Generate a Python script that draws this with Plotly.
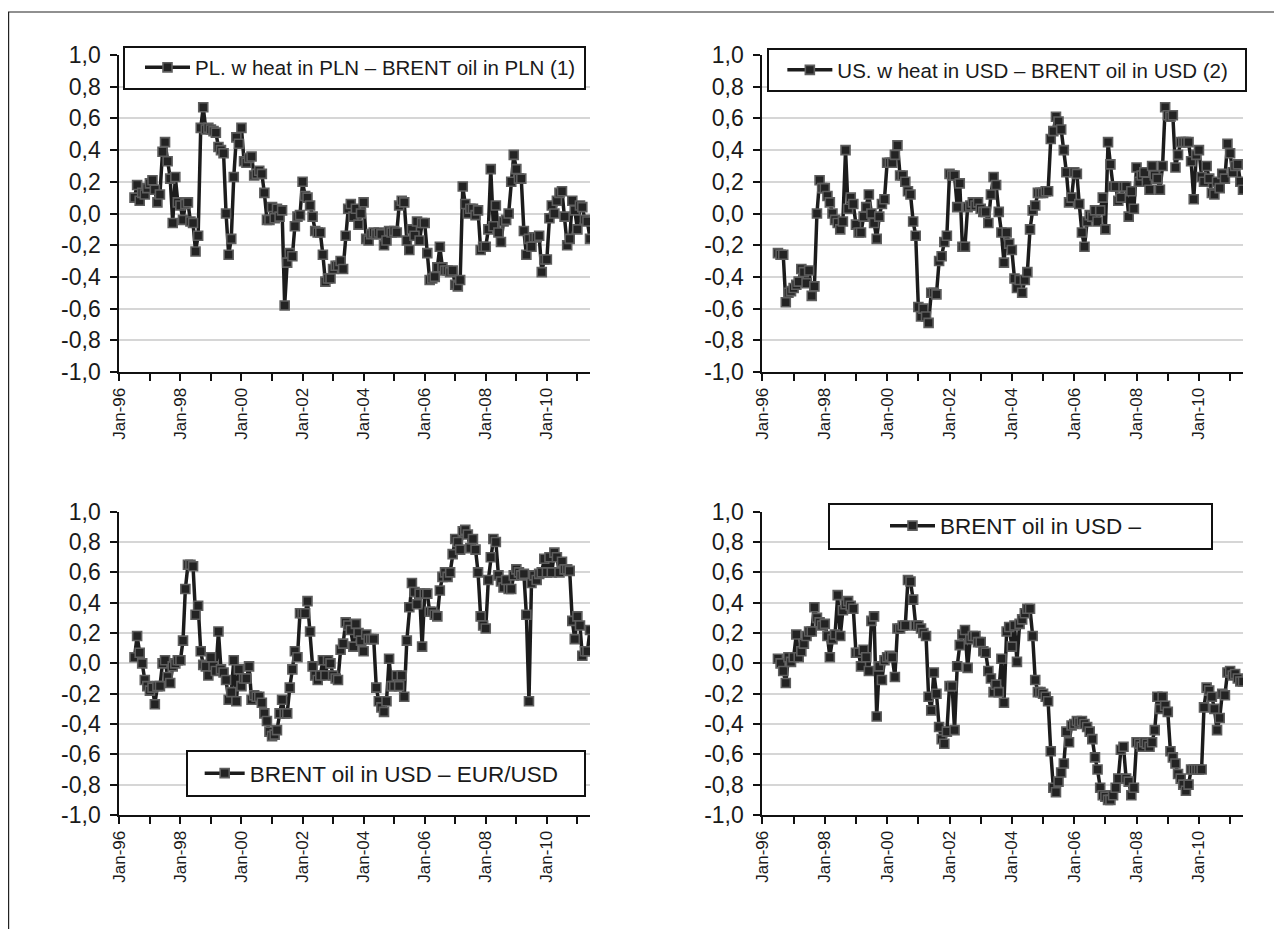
import pandas as pd
import plotly.graph_objects as go

# ---------------- data (monthly, Jul-1996 .. Jun-2011) ----------------
start_month = "1996-07-01"
n_months = 180

pl_wheat_oil_pln = [
    0.10, 0.18, 0.08, 0.13, 0.12, 0.16,
    0.19, 0.21, 0.15, 0.07, 0.12, 0.39, 0.45, 0.33, 0.22, -0.06, 0.23, 0.07,
    0.05, -0.04, 0.06, 0.07, -0.05, -0.06, -0.24, -0.14, 0.54, 0.67, 0.53, 0.54,
    0.53, 0.52, 0.51, 0.42, 0.40, 0.38, 0.00, -0.26, -0.16, 0.23, 0.48, 0.44,
    0.54, 0.33, 0.32, 0.35, 0.36, 0.24, 0.25, 0.27, 0.25, 0.13, -0.04, -0.04,
    0.04, -0.03, 0.03, -0.02, 0.02, -0.58, -0.31, -0.25, -0.27, -0.08, -0.02, -0.01,
    0.20, 0.11, 0.10, 0.05, -0.02, -0.11, -0.12, -0.12, -0.26, -0.43, -0.41, -0.41,
    -0.35, -0.33, -0.33, -0.30, -0.35, -0.14, 0.03, 0.06, -0.02, 0.03, -0.07, 0.00,
    0.07, -0.16, -0.17, -0.13, -0.12, -0.13, -0.12, -0.13, -0.20, -0.17, -0.11, -0.12,
    -0.11, -0.12, 0.05, 0.08, 0.07, -0.17, -0.23, -0.10, -0.14, -0.05, -0.17, -0.06,
    -0.06, -0.25, -0.42, -0.41, -0.40, -0.34, -0.21, -0.34, -0.36, -0.36, -0.37, -0.36,
    -0.45, -0.46, -0.42, 0.17, 0.06, 0.00, 0.03, 0.03, -0.01, 0.02, -0.23, -0.21,
    -0.21, -0.10, 0.28, -0.08, 0.05, -0.12, -0.18, -0.05, -0.04, 0.00, 0.20, 0.37,
    0.28, 0.22, 0.22, -0.11, -0.26, -0.16, -0.21, -0.15, -0.15, -0.14, -0.37, -0.29,
    -0.29, -0.03, 0.05, 0.00, 0.08, 0.13, 0.14, -0.02, -0.20, -0.16, 0.08, 0.02,
    -0.10, 0.05, 0.04, -0.04, -0.05, -0.16,
]

us_wheat_oil_usd = [
    -0.25, -0.26, -0.26, -0.56, -0.50, -0.49,
    -0.47, -0.45, -0.43, -0.35, -0.37, -0.44, -0.36, -0.52, -0.46, 0.00, 0.21, 0.16,
    0.16, 0.11, 0.07, 0.00, -0.04, -0.06, -0.10, -0.05, 0.40, 0.03, 0.10, 0.06,
    -0.07, -0.12, -0.12, -0.02, 0.04, 0.12, 0.00, -0.06, -0.16, -0.02, 0.06, 0.09,
    0.32, 0.32, 0.32, 0.37, 0.43, 0.24, 0.24, 0.20, 0.14, 0.12, -0.05, -0.14,
    -0.59, -0.65, -0.60, -0.65, -0.69, -0.50, -0.50, -0.51, -0.30, -0.27, -0.18, -0.14,
    0.25, 0.24, 0.24, 0.04, 0.19, -0.21, -0.21, 0.04, 0.05, 0.07, 0.05, 0.07,
    0.03, 0.01, 0.01, -0.06, 0.12, 0.23, 0.18, 0.01, -0.12, -0.31, -0.12, -0.19,
    -0.23, -0.41, -0.47, -0.42, -0.50, -0.42, -0.37, -0.10, 0.02, 0.05, 0.13, 0.13,
    0.13, 0.14, 0.14, 0.47, 0.52, 0.61, 0.58, 0.53, 0.40, 0.26, 0.07, 0.10,
    0.26, 0.25, 0.06, -0.12, -0.21, -0.05, -0.01, -0.02, 0.02, -0.05, 0.02, 0.10,
    -0.10, 0.45, 0.31, 0.17, 0.17, 0.08, 0.10, 0.17, 0.17, -0.02, 0.14, 0.03,
    0.29, 0.20, 0.24, 0.26, 0.20, 0.15, 0.30, 0.24, 0.22, 0.15, 0.30, 0.67,
    0.62, 0.61, 0.62, 0.29, 0.37, 0.45, 0.45, 0.45, 0.45, 0.33, 0.09, 0.37,
    0.40, 0.23, 0.20, 0.30, 0.22, 0.13, 0.12, 0.20, 0.16, 0.25, 0.22, 0.44,
    0.38, 0.26, 0.30, 0.31, 0.20, 0.15,
]

oil_usd_eurusd = [
    0.04, 0.18, 0.07, 0.00, -0.11, -0.15,
    -0.18, -0.16, -0.27, -0.15, -0.15, 0.00, 0.02, -0.09, -0.13, -0.02, 0.00, 0.02,
    0.02, 0.15, 0.49, 0.65, 0.65, 0.64, 0.32, 0.38, 0.08, -0.01, -0.02, -0.08,
    0.04, -0.02, -0.05, 0.21, -0.04, -0.06, -0.11, -0.24, -0.19, 0.02, -0.25, -0.04,
    -0.15, -0.10, -0.10, -0.02, -0.24, -0.21, -0.22, -0.22, -0.26, -0.33, -0.38, -0.45,
    -0.48, -0.47, -0.44, -0.33, -0.24, -0.33, -0.33, -0.16, -0.04, 0.08, 0.04, 0.33,
    0.33, 0.33, 0.41, 0.21, -0.02, -0.08, -0.11, -0.08, 0.02, -0.08, 0.02, 0.00,
    -0.08, -0.10, -0.11, 0.09, 0.13, 0.27, 0.25, 0.22, 0.11, 0.26, 0.20, 0.15,
    0.08, 0.19, 0.16, 0.16, 0.16, -0.16, -0.25, -0.29, -0.32, -0.25, 0.03, -0.15,
    -0.15, -0.08, -0.15, -0.08, -0.22, 0.15, 0.37, 0.53, 0.47, 0.39, 0.46, 0.11,
    0.46, 0.46, 0.34, 0.34, 0.32, 0.31, 0.48, 0.57, 0.60, 0.57, 0.60, 0.72,
    0.82, 0.80, 0.75, 0.87, 0.88, 0.85, 0.76, 0.82, 0.75, 0.60, 0.31, 0.25,
    0.23, 0.55, 0.70, 0.82, 0.80, 0.58, 0.54, 0.50, 0.55, 0.49, 0.49, 0.58,
    0.62, 0.60, 0.58, 0.59, 0.32, -0.25, 0.53, 0.58, 0.55, 0.59, 0.60, 0.69,
    0.60, 0.70, 0.60, 0.73, 0.70, 0.60, 0.67, 0.62, 0.62, 0.61, 0.28, 0.16,
    0.31, 0.25, 0.05, 0.08, 0.08, 0.22,
]

oil_usd_other = [
    0.03, 0.00, -0.05, -0.13, 0.04, 0.01,
    0.04, 0.19, 0.04, 0.08, 0.13, 0.18, 0.21, 0.21, 0.37, 0.30, 0.27, 0.25,
    0.26, 0.18, 0.04, 0.16, 0.19, 0.45, 0.18, 0.35, 0.39, 0.41, 0.38, 0.36,
    0.07, 0.07, -0.02, 0.09, 0.04, -0.05, 0.28, 0.31, -0.35, -0.02, -0.11, 0.02,
    0.04, 0.05, 0.04, -0.09, 0.23, 0.23, 0.25, 0.25, 0.55, 0.54, 0.42, 0.25,
    0.25, 0.23, 0.20, 0.18, -0.22, -0.31, -0.06, -0.20, -0.42, -0.50, -0.53, -0.45,
    -0.15, -0.15, -0.44, -0.02, 0.12, 0.19, 0.22, -0.03, 0.16, 0.18, 0.18, 0.14,
    0.14, 0.08, 0.07, -0.05, -0.10, -0.19, -0.14, -0.19, 0.03, -0.26, 0.21, 0.24,
    0.11, 0.25, 0.01, 0.26, 0.29, 0.33, 0.36, 0.36, 0.18, -0.11, -0.19, -0.19,
    -0.20, -0.22, -0.25, -0.58, -0.82, -0.85, -0.78, -0.72, -0.66, -0.45, -0.52, -0.41,
    -0.40, -0.38, -0.39, -0.38, -0.40, -0.42, -0.45, -0.50, -0.62, -0.70, -0.82, -0.87,
    -0.88, -0.90, -0.90, -0.87, -0.82, -0.76, -0.57, -0.55, -0.76, -0.78, -0.87, -0.82,
    -0.52, -0.53, -0.55, -0.52, -0.53, -0.55, -0.52, -0.44, -0.22, -0.30, -0.22, -0.28,
    -0.32, -0.58, -0.62, -0.66, -0.73, -0.76, -0.80, -0.84, -0.80, -0.70, -0.70, -0.70,
    -0.70, -0.70, -0.29, -0.16, -0.18, -0.22, -0.30, -0.44, -0.36, -0.20, -0.21, -0.06,
    -0.05, -0.08, -0.07, -0.10, -0.12, -0.12,
]

series_names = [
    "PL. w heat in PLN \u2013 BRENT oil in PLN (1)",
    "US. w heat in USD \u2013 BRENT oil in USD (2)",
    "BRENT oil in USD \u2013 EUR/USD",
    "BRENT oil in USD \u2013",
]

x_tick_years = list(range(1996, 2012))
x_tick_labels = ["Jan-%02d" % (y % 100) if (y - 1996) % 2 == 0 else "" for y in x_tick_years]
y_tick_values = [-1.0, -0.8, -0.6, -0.4, -0.2, 0.0, 0.2, 0.4, 0.6, 0.8, 1.0]
y_tick_labels = ["-1,0", "-0,8", "-0,6", "-0,4", "-0,2", "0,0", "0,2", "0,4", "0,6", "0,8", "1,0"]

# ---------------- layout geometry (screen pixels; page has 8px body margin) ----------------
W, H = 1274, 921
OFF = 8
FONT = "Liberation Sans, Arial, sans-serif"


def fx(s):
    return (s - OFF) / W


def fy(s):
    return 1 - (s - OFF) / H


dates = pd.date_range(start_month, periods=n_months, freq="MS")
x_range = ["1996-01-01", "2011-06-01"]
x_tickvals = ["%d-01-01" % y for y in x_tick_years]

panels = [
    dict(vals=pl_wheat_oil_pln, px=(119.3, 590), py=(55, 372),
         leg=dict(x=123, y=45.5, w=384, iw=45, pad="\u2005", fs=20.5)),
    dict(vals=us_wheat_oil_usd, px=(762.4, 1243), py=(55, 372),
         leg=dict(x=767, y=48, w=402, iw=45, pad="\u2006", fs=20.5)),
    dict(vals=oil_usd_eurusd, px=(119.3, 590), py=(511.7, 815),
         leg=dict(x=186, y=750, w=329, iw=40, pad="\u200a", fs=22.5)),
    dict(vals=oil_usd_other, px=(762.4, 1243), py=(511.7, 815),
         leg=dict(x=828, y=502.5, w=266, iw=45, pad="\u2003\u2003\u2005", fs=22.5)),
]

fig = go.Figure()
layout = dict(
    width=W, height=H,
    margin=dict(l=0, r=0, t=0, b=0, autoexpand=False),
    paper_bgcolor="white", plot_bgcolor="white",
    font=dict(family=FONT, color="#1a1a1a"),
    showlegend=True,
)

for i, p in enumerate(panels):
    k = i + 1
    xa = "x" if k == 1 else "x%d" % k
    ya = "y" if k == 1 else "y%d" % k
    xkey = "xaxis" if k == 1 else "xaxis%d" % k
    ykey = "yaxis" if k == 1 else "yaxis%d" % k
    lkey = "legend" if k == 1 else "legend%d" % k
    dom_x = [fx(p["px"][0]), fx(p["px"][1])]
    dom_y = [fy(p["py"][1]), fy(p["py"][0])]

    fig.add_trace(go.Scatter(
        x=dates, y=p["vals"], name=series_names[i],
        mode="lines+markers", xaxis=xa, yaxis=ya, legend=lkey,
        line=dict(color="#1c1c1c", width=3.5),
        marker=dict(symbol="square", size=9, color="#232323",
                    line=dict(color="#5e5e5e", width=1.6)),
        hoverinfo="skip",
    ))

    layout[xkey] = dict(
        domain=dom_x, anchor=ya, type="date", range=x_range,
        tickmode="array", tickvals=x_tickvals, ticktext=x_tick_labels,
        tickangle=-90, tickfont=dict(size=17, family=FONT, color="#1a1a1a"),
        ticks="outside", ticklen=7, tickwidth=2, tickcolor="#111",
        showline=True, linecolor="#111", linewidth=2,
        showgrid=False, zeroline=False, fixedrange=True,
    )
    layout[ykey] = dict(
        domain=dom_y, anchor=xa, range=[-1, 1],
        tickmode="array", tickvals=y_tick_values, ticktext=y_tick_labels,
        tickfont=dict(size=23, family=FONT, color="#1a1a1a"),
        ticks="outside", ticklen=7, tickwidth=2, tickcolor="#111",
        ticklabelstandoff=5,
        showline=True, linecolor="#111", linewidth=2,
        showgrid=True, gridcolor="#d6d6d6", gridwidth=1.5,
        zeroline=False, fixedrange=True,
    )
    # overlay axes to give "cross" ticks
    ox = "xaxis%d" % (k + 4)
    oy = "yaxis%d" % (k + 4)
    layout[ox] = dict(
        overlaying=xa, anchor=ya, side="bottom", type="date", range=x_range,
        tickmode="array", tickvals=x_tickvals, showticklabels=False,
        ticks="inside", ticklen=7, tickwidth=2, tickcolor="#111",
        showline=False, showgrid=False, zeroline=False, fixedrange=True,
    )
    layout[oy] = dict(
        overlaying=ya, anchor=xa, side="left", range=[-1, 1],
        tickmode="array", tickvals=y_tick_values, showticklabels=False,
        ticks="inside", ticklen=7, tickwidth=2, tickcolor="#111",
        showline=False, showgrid=False, zeroline=False, fixedrange=True,
    )
    lg = p["leg"]
    layout[lkey] = dict(
        x=fx(lg["x"]), y=fy(lg["y"]), xanchor="left", yanchor="top",
        orientation="h", entrywidth=lg["w"], entrywidthmode="pixels",
        itemwidth=lg["iw"],
        title=dict(text=lg["pad"], side="left", font=dict(size=20, family=FONT)),
        bgcolor="white", bordercolor="#111", borderwidth=2,
        font=dict(size=lg["fs"], family=FONT, color="#1a1a1a"),
    )

layout["shapes"] = [dict(
    type="rect", xref="paper", yref="paper",
    x0=fx(8.6), x1=1.02, y0=-0.02, y1=fy(12),
    line=dict(color="#222", width=1.2), fillcolor="rgba(0,0,0,0)", layer="below",
)]

fig.update_layout(**layout)
fig.write_html("out.html")
